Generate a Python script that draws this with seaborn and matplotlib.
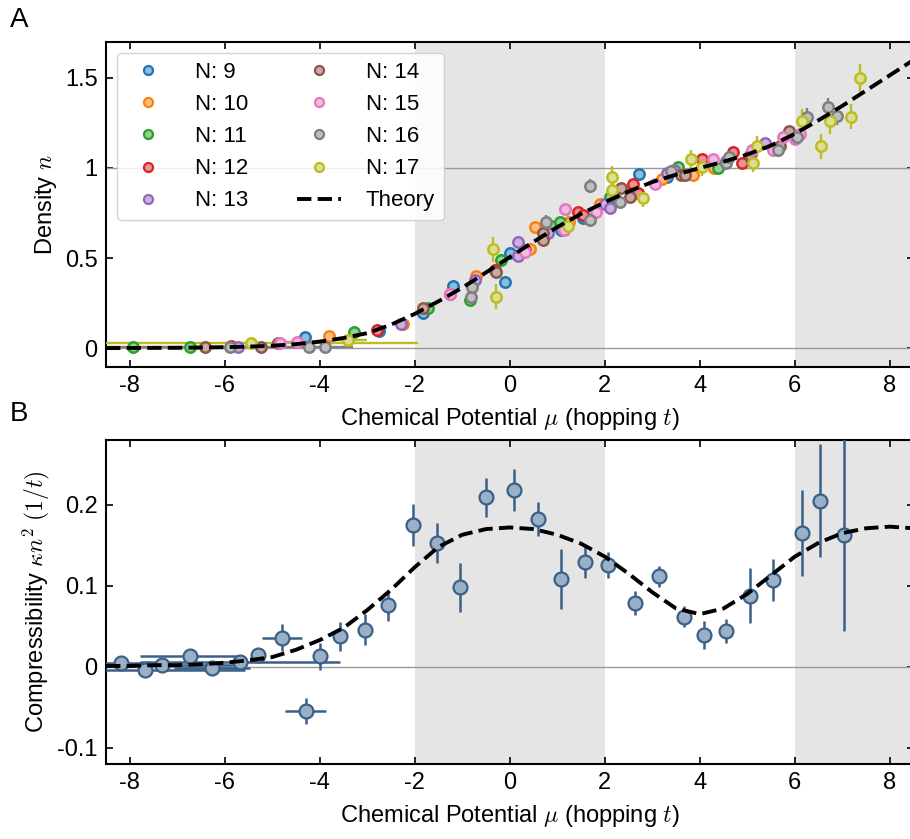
import matplotlib
matplotlib.use("Agg")
import matplotlib.pyplot as plt
from matplotlib.lines import Line2D
from matplotlib.colors import to_rgb
from matplotlib.ticker import FuncFormatter
import seaborn as sns

# ---- density data, one set per atom number N ----
mu9 = [-4.32, -2.75, -1.83, -1.20, -0.10, 0.00, 1.07, 1.55, 2.17, 2.72, 3.30]
n9 = [0.063, 0.095, 0.193, 0.344, 0.368, 0.526, 0.655, 0.72, 0.85, 0.965, 0.95]
e9 = [0.02, 0.02, 0.03, 0.03, 0.035, 0.03, 0.03, 0.02, 0.03, 0.03, 0.02]

mu10 = [-3.81, -2.25, -0.72, 0.42, 0.53, 1.25, 1.90, 2.55, 3.20, 3.85, 4.30]
n10 = [0.068, 0.135, 0.40, 0.55, 0.67, 0.70, 0.80, 0.89, 0.94, 0.96, 1.0]
e10 = [0.015, 0.02, 0.02, 0.03, 0.02, 0.02, 0.02, 0.02, 0.02, 0.02, 0.02]

mu11 = [-7.93, -6.74, -3.28, -1.72, -0.84, -0.18, 0.86, 1.05, 2.10, 3.54, 4.39]
n11 = [0.007, 0.007, 0.09, 0.22, 0.267, 0.49, 0.68, 0.70, 0.84, 1.007, 1.0]
e11 = [0.005, 0.005, 0.02, 0.02, 0.02, 0.03, 0.02, 0.02, 0.02, 0.02, 0.02]

mu12 = [-5.87, -2.79, -1.26, -0.32, 0.32, 1.44, 1.55, 2.60, 2.70, 4.04, 4.70, 4.88]
n12 = [0.013, 0.10, 0.30, 0.433, 0.544, 0.757, 0.74, 0.91, 0.86, 1.05, 1.09, 1.026]
e12 = [0.005, 0.02, 0.02, 0.03, 0.02, 0.02, 0.02, 0.02, 0.02, 0.02, 0.02, 0.02]

mu13 = [-5.73, -2.29, -0.74, 0.17, 0.17, 0.81, 2.00, 2.10, 3.30, 3.45, 4.55, 5.37]
n13 = [0.007, 0.133, 0.38, 0.59, 0.51, 0.64, 0.80, 0.78, 0.97, 0.99, 1.04, 1.137]
e13 = [0.005, 0.015, 0.02, 0.02, 0.02, 0.02, 0.02, 0.02, 0.02, 0.02, 0.02, 0.02]

mu14 = [-6.42, -5.23, -4.88, -1.82, -0.28, 0.70, 0.70, 2.35, 2.53, 3.60, 3.68, 5.05, 5.68, 5.88]
n14 = [0.007, 0.007, 0.03, 0.22, 0.42, 0.64, 0.60, 0.887, 0.837, 0.96, 0.96, 1.07, 1.12, 1.207]
e14 = [0.005, 0.005, 0.01, 0.02, 0.02, 0.02, 0.02, 0.02, 0.02, 0.02, 0.02, 0.02, 0.02, 0.02]

mu15 = [-4.83, -4.47, -1.26, 0.32, 1.14, 1.17, 1.82, 3.05, 4.28, 5.10, 5.54, 5.75, 6.00, 6.10]
n15 = [0.03, 0.035, 0.30, 0.535, 0.655, 0.77, 0.755, 0.91, 1.048, 1.10, 1.10, 1.17, 1.16, 1.19]
e15 = [0.01, 0.01, 0.02, 0.02, 0.02, 0.03, 0.02, 0.02, 0.02, 0.02, 0.02, 0.02, 0.02, 0.02]

mu16 = [-5.90, -4.22, -3.88, -0.82, -0.79, 0.76, 1.68, 1.68, 2.32, 3.40,
        4.55, 4.62, 5.65, 6.05, 6.26, 6.70, 6.88]
n16 = [0.005, 0.007, 0.007, 0.285, 0.337, 0.70, 0.71, 0.90, 0.81, 0.985,
       1.03, 1.06, 1.10, 1.17, 1.285, 1.34, 1.29]
e16 = [0.005, 0.005, 0.005, 0.04, 0.04, 0.04, 0.04, 0.04, 0.04, 0.03,
       0.03, 0.03, 0.04, 0.04, 0.05, 0.05, 0.05]

mu17 = [-5.44, -3.40, -0.36, -0.29, 1.23, 2.16, 2.16, 2.81, 3.82, 4.04,
        5.11, 5.21, 6.16, 6.55, 6.75, 7.19, 7.37]
n17 = [0.026, 0.044, 0.548, 0.285, 0.68, 0.95, 0.88, 0.835, 1.05, 1.008,
       1.026, 1.12, 1.26, 1.12, 1.26, 1.285, 1.50]
e17 = [0.01, 0.02, 0.07, 0.07, 0.06, 0.06, 0.05, 0.05, 0.05, 0.05,
       0.05, 0.06, 0.07, 0.07, 0.07, 0.07, 0.08]

# horizontal error bars in the low density region (index -> half width)
xerr15 = {1: 0.53}
xerr16 = {0: 2.6}
xerr17 = {0: 3.5, 1: 0.4}

atom_numbers = [9, 10, 11, 12, 13, 14, 15, 16, 17]
series_mu = [mu9, mu10, mu11, mu12, mu13, mu14, mu15, mu16, mu17]
series_n = [n9, n10, n11, n12, n13, n14, n15, n16, n17]
series_err = [e9, e10, e11, e12, e13, e14, e15, e16, e17]
series_xerr = [{}, {}, {}, {}, {}, {}, xerr15, xerr16, xerr17]

# theory curves
theory_mu = [-8.5, -8.0, -7.5, -7.0, -6.5, -6.0, -5.5, -5.0, -4.5, -4.0, -3.5, -3.0,
             -2.5, -2.0, -1.5, -1.0, -0.5, 0.0, 0.5, 1.0, 1.5, 2.0, 2.5, 3.0,
             3.5, 4.0, 4.5, 5.0, 5.5, 6.0, 6.5, 7.0, 7.5, 8.0, 8.5]
theory_n = [0.0, 0.0005, 0.001, 0.0015, 0.003, 0.005, 0.008, 0.013, 0.022, 0.036, 0.056, 0.083,
            0.13, 0.19, 0.26, 0.335, 0.42, 0.505, 0.59, 0.672, 0.745, 0.81, 0.87, 0.922,
            0.963, 1.0, 1.035, 1.075, 1.125, 1.19, 1.265, 1.345, 1.43, 1.515, 1.60]
theory_kappa = [0.001, 0.001, 0.002, 0.002, 0.003, 0.005, 0.008, 0.012, 0.021, 0.033, 0.048, 0.070,
                0.095, 0.123, 0.148, 0.163, 0.170, 0.172, 0.170, 0.163, 0.152, 0.136, 0.115, 0.092,
                0.072, 0.065, 0.072, 0.090, 0.113, 0.136, 0.153, 0.165, 0.171, 0.173, 0.171]

# ---- compressibility data ----
comp_mu = [-8.18, -7.67, -7.32, -6.74, -6.27, -5.68, -5.30, -4.79, -4.30, -4.00, -3.58,
           -3.05, -2.56, -2.04, -1.54, -1.04, -0.51, 0.09, 0.60, 1.07, 1.58, 2.07,
           2.63, 3.14, 3.66, 4.09, 4.56, 5.05, 5.54, 6.16, 6.54, 7.04]
comp_val = [0.005, -0.0045, 0.0016, 0.0128, -0.0016, 0.0053, 0.0144, 0.036, -0.055, 0.0128, 0.0374,
            0.0457, 0.0757, 0.1745, 0.153, 0.098, 0.2095, 0.2185, 0.183, 0.1086, 0.129, 0.1255,
            0.079, 0.112, 0.062, 0.0395, 0.0444, 0.0877, 0.1066, 0.165, 0.205, 0.1626]
comp_err = [0.004, 0.004, 0.004, 0.004, 0.004, 0.005, 0.008, 0.017, 0.016, 0.017, 0.018,
            0.019, 0.019, 0.026, 0.025, 0.030, 0.024, 0.026, 0.021, 0.037, 0.020, 0.016,
            0.015, 0.013, 0.0135, 0.017, 0.015, 0.034, 0.026, 0.053, 0.070, 0.119]
comp_xerr = [0.5, 2.1, 1.5, 1.05, 0.8, 2.1, 0.0, 0.42, 0.43, 0.0, 0.0,
             0.0, 0.0, 0.0, 0.0, 0.0, 0.0, 0.0, 0.0, 0.0, 0.0, 0.0,
             0.0, 0.0, 0.0, 0.0, 0.0, 0.0, 0.0, 0.0, 0.0, 0.0]


sns.set_style("ticks")
plt.rcParams["font.family"] = ["Liberation Sans", "DejaVu Sans"]
plt.rcParams["mathtext.fontset"] = "cm"
plt.rcParams["axes.unicode_minus"] = False
for k in ["text.color", "axes.labelcolor", "xtick.color", "ytick.color"]:
    plt.rcParams[k] = "black"

palette = sns.color_palette("tab10", len(atom_numbers))


def lighten(c, amt=0.5):
    r, g, b = to_rgb(c)
    return (r + (1 - r) * amt, g + (1 - g) * amt, b + (1 - b) * amt)


def style_axes(ax, ylim, yticks):
    ax.set_xlim(-8.5, 8.5)
    ax.set_ylim(*ylim)
    ax.set_xticks([-8, -6, -4, -2, 0, 2, 4, 6, 8])
    ax.set_yticks(yticks)
    ax.yaxis.set_major_formatter(FuncFormatter(lambda v, p: "%g" % round(v, 3)))
    ax.tick_params(direction="in", length=5, width=1.2, labelsize=17,
                   top=True, right=True, pad=6, colors="black")
    for s in ax.spines.values():
        s.set_linewidth(1.5)
        s.set_color("black")
    ax.axvspan(-2, 2, color="#e5e5e5", lw=0, zorder=0)
    ax.axvspan(6, 9, color="#e5e5e5", lw=0, zorder=0)
    ax.set_xlabel(r"Chemical Potential $\mu$ (hopping $t$)", fontsize=17, labelpad=6)


fig = plt.figure(figsize=(9.1, 8.39), dpi=100)
ax1 = fig.add_axes([0.1165, 0.5626, 0.8874, 0.3874])
ax2 = fig.add_axes([0.1165, 0.0894, 0.8874, 0.3862])

# ---- panel A ----
style_axes(ax1, (-0.105, 1.7), [0, 0.5, 1, 1.5])
ax1.axhline(0, color="#999999", lw=1.0, zorder=1)
ax1.axhline(1, color="#999999", lw=1.0, zorder=1)

handles = []
for N, mus, ns, errs, xe, col in zip(atom_numbers, series_mu, series_n,
                                      series_err, series_xerr, palette):
    xerr = [xe.get(i, 0.0) for i in range(len(mus))]
    ax1.errorbar(mus, ns, yerr=errs, xerr=xerr, fmt="o", color=col, ecolor=col,
                 mfc=lighten(col), mec=col, ms=7.5, mew=1.8, elinewidth=1.7,
                 capsize=0, zorder=3)
    handles.append(Line2D([], [], marker="o", ls="none", color=col,
                          mfc=lighten(col), mec=col, ms=6.5, mew=1.6,
                          label="N: %d" % N))

sns.lineplot(x=theory_mu, y=theory_n, ax=ax1, color="black", lw=2.8,
             linestyle="--", zorder=5)
handles.append(Line2D([], [], color="black", lw=2.8, ls="--", label="Theory"))
ax1.legend(handles=handles, ncol=2, loc="upper left", fontsize=16,
           frameon=True, fancybox=True, framealpha=0.85, edgecolor="#cccccc",
           handlelength=2.0, handletextpad=1.1, columnspacing=2.2,
           labelspacing=0.5)
ax1.set_ylabel(r"Density $n$", fontsize=17)

# ---- panel B ----
style_axes(ax2, (-0.12, 0.28), [-0.1, 0, 0.1, 0.2])
ax2.axhline(0, color="#999999", lw=1.0, zorder=1)
ax2.errorbar(comp_mu, comp_val, yerr=comp_err, xerr=comp_xerr, fmt="o",
             color="#3b6088", ecolor="#3b6088", mfc="#9ab0c7", mec="#3b6088",
             ms=10, mew=1.6, elinewidth=1.8, capsize=0, zorder=3)
sns.lineplot(x=theory_mu, y=theory_kappa, ax=ax2, color="black", lw=2.8,
             linestyle="--", zorder=5)
ax2.set_ylabel(r"Compressibility $\kappa n^2$ $(1/t)$", fontsize=17)

fig.text(0.011, 0.992, "A", fontsize=20, va="top", ha="left")
fig.text(0.011, 0.522, "B", fontsize=20, va="top", ha="left")

fig.savefig("out.png", dpi=100)
